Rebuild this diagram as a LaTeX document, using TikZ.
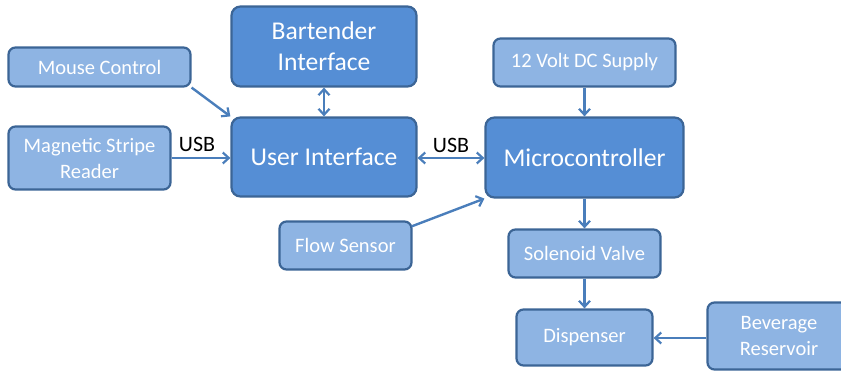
\documentclass[tikz,border=0pt]{standalone}
\usepackage{fontspec}
\setmainfont{Carlito}
\usetikzlibrary{arrows.meta}
\definecolor{darkbox}{HTML}{558ED5}
\definecolor{lightbox}{HTML}{8EB4E3}
\definecolor{boxline}{HTML}{3C6596}
\definecolor{arrowc}{HTML}{4A7EBB}
\tikzset{
  basebox/.style={draw=boxline, line width=2.2pt, rounded corners=9pt, inner sep=0pt,
    text=white, align=center},
  bigbox/.style={basebox, fill=darkbox, font=\fontsize{25.6}{31}\selectfont},
  smallbox/.style={basebox, fill=lightbox, rounded corners=7pt, font=\fontsize{20.5}{26}\selectfont},
  conn/.style={draw=arrowc, line width=2.4pt, -{Straight Barb[length=6pt,width=11pt,line width=2.2pt]}},
  biconn/.style={conn, {Straight Barb[length=6pt,width=11pt,line width=2.2pt]}-{Straight Barb[length=6pt,width=11pt,line width=2.2pt]}},
  usb/.style={font=\fontsize{22}{26}\selectfont, text=black, inner sep=0pt, anchor=base}
}
\begin{document}
\begin{tikzpicture}[x=1pt,y=-1pt]
\useasboundingbox (0,0) rectangle (841,371);
\clip (0,0) rectangle (841,371);
\node[smallbox, minimum width=182pt, minimum height=39pt] (mouse) at (99.5,67) {Mouse Control};
\node[bigbox, minimum width=185pt, minimum height=80pt] (bart) at (324,46.5) {Bartender\\Interface};
\node[smallbox, minimum width=162pt, minimum height=63pt] (msr) at (89.5,158) {Magnetic Stripe\\Reader};
\node[bigbox, minimum width=185pt, minimum height=79pt] (ui) at (324,157) {User Interface};
\node[smallbox, minimum width=182pt, minimum height=48pt] (supply) at (584.5,62.5) {12 Volt DC Supply};
\node[bigbox, minimum width=198pt, minimum height=80pt] (micro) at (584.5,157.5) {Microcontroller};
\node[smallbox, minimum width=132pt, minimum height=48pt] (flow) at (345.5,245.5) {Flow Sensor};
\node[smallbox, minimum width=152pt, minimum height=48pt] (sol) at (584.5,253.5) {Solenoid Valve};
\node[smallbox, minimum width=136pt, minimum height=56pt] (disp) at (584.5,337.5) {Dispenser};
\node[smallbox, minimum width=143pt, minimum height=67pt] (bev) at (779,336) {Beverage\\Reservoir};

\draw[conn] (mouse.south east) -- (ui.north west);
\draw[conn] (msr.east |- 0,158) coordinate (msrout) -- (msrout -| ui.west);
\draw[biconn] (bart.south) -- (ui.north);
\draw[biconn] (ui.east |- 0,158) coordinate (uiout) -- (uiout -| micro.west);
\draw[conn] ([shift={(-1,6)}]flow.north east) -- (micro.south west);
\draw[conn] (supply.south) -- (micro.north);
\draw[conn] (micro.south) -- (sol.north);
\draw[conn] (sol.south) -- (disp.north);
\draw[conn] (bev.west |- 0,338) coordinate (bevout) -- (bevout -| disp.east);

\node[usb] (usb1) at (197,152) {USB};
\node[usb] (usb2) at (451,153) {USB};
\end{tikzpicture}
\end{document}
